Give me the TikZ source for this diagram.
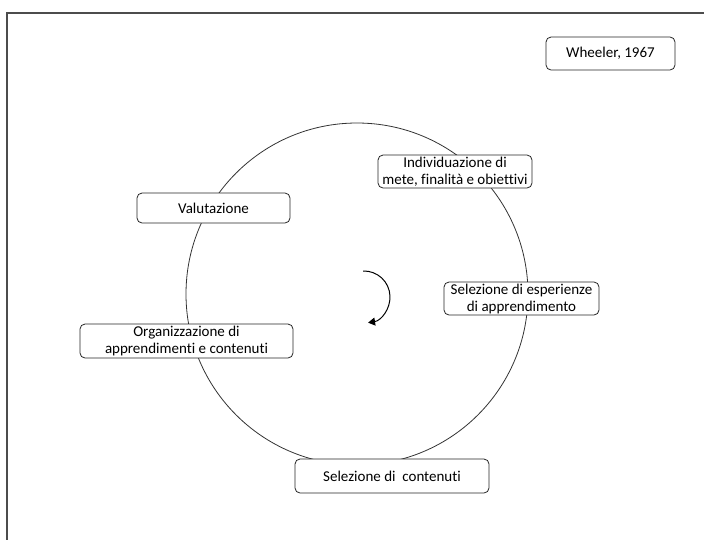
\documentclass[tikz,border=0pt]{standalone}
\usepackage{fontspec}
\setmainfont{Carlito}[Ligatures=NoCommon]
\usetikzlibrary{arrows.meta}
\begin{document}
\begin{tikzpicture}[x=1pt,y=-1pt,
  stage/.style={draw=black!85, line width=0.8pt, rounded corners=5pt, fill=white,
    inner sep=0pt, align=center, font=\fontsize{15}{17}\selectfont},
  cycle/.style={draw=black!80, line width=0.8pt}]
  \useasboundingbox (0,0) rectangle (704,539);
  \begin{scope}
    \clip (0,0) rectangle (704,539);
    % page frame
    \draw[draw=black!70, line width=1.5pt] (7,13) rectangle (730,560);
  \end{scope}
  % cycle ring
  \node[cycle, circle, minimum size=342pt, inner sep=0pt] (ring) at (357,294) {};
  % clockwise rotation hint in the middle (y axis points down here)
  \coordinate (rotc) at (364,297);
  \draw[line width=1pt, -{Triangle[length=7pt,width=8pt]}]
    ([shift={(-92:26)}]rotc) arc[start angle=-92, end angle=81, radius=26];
  % stages
  \node[stage, minimum width=129pt, minimum height=33pt] (src) at (610.5,53.5) {Wheeler, 1967};
  \node[stage, minimum width=154pt, minimum height=33pt] (goals) at (455,171.5) {Individuazione di\\mete, finalità e obiettivi};
  \node[stage, minimum width=155pt, minimum height=33pt] (exp) at (521.5,298.5) {Selezione di esperienze\\di apprendimento};
  \node[stage, minimum width=194pt, minimum height=34pt] (cont) at (392,476) {Selezione di\ \ contenuti};
  \node[stage, minimum width=213pt, minimum height=34pt] (org) at (186.5,341) {Organizzazione di\\apprendimenti e contenuti};
  \node[stage, minimum width=153pt, minimum height=30pt] (eval) at (213.5,208) {Valutazione};
\end{tikzpicture}
\end{document}
